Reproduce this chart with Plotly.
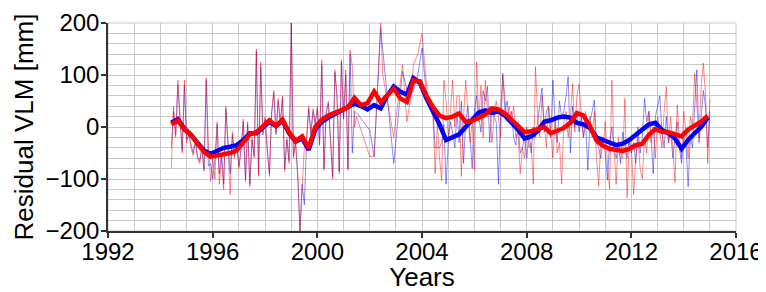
import plotly.graph_objects as go

# ---------------- data ----------------
start_year = 1994.42
smooth_step = 0.25      # quarterly samples of the smoothed series
raw_step = 1 / 12       # monthly samples of the raw series

blue_smooth = [8, 15, -3, -15, -30, -45, -52, -45, -40, -38, -35,
               -25, -12, -12, 0, 10, 2, 12, -12, -28, -22, -44, -5,
               10, 18, 25, 32, 38, 45, 40, 34, 42, 36, 60, 78,
               68, 62, 94, 85, 55, 30, 5, -25, -20, -14, 0, 14,
               28, 32, 27, 30, 22, 8, -5, -22, -18, -8, 10, 13,
               18, 20, 18, 8, 5, -2, -20, -25, -30, -35, -32, -25,
               -15, -6, 5, 8, -6, -12, -22, -42, -25, -12, 0, 18]

red_smooth = [5, 13, -5, -15, -32, -48, -57, -55, -52, -50, -45,
              -28, -14, -10, 3, 13, 2, 14, -10, -27, -18, -40, 0,
              14, 22, 27, 34, 38, 56, 42, 46, 68, 48, 62, 74,
              55, 48, 90, 88, 60, 38, 22, 17, 20, 26, 10, 12,
              18, 24, 36, 34, 26, 14, 2, -10, -8, -3, 0, -12,
              -8, -2, 8, 27, 22, 2, -26, -36, -42, -44, -46, -42,
              -35, -32, -15, -4, -9, -10, -14, -18, -5, 2, 10, 22]

blue_raw = [
    -40, 30, -15, 80, 15, -45, 80, -25, -15, -35, -50, -25,
    -55, -65, -40, -85, 90, -75, -70, -100, -60, 5, -90, -50,
    -110, 35, -35, -90, -15, -55, -30, -75, -40, 10, -100, 5,
    -110, -25, -55, 145, -90, 115, -15, 15, -45, -90, 25, 65,
    -15, 50, 5, 55, -80, -25, -65, 200, -55, -30, -100, -200,
    -110, -150, -30, 35, -15, 30, 5, 35, -35, 120, -80, 25,
    45, -25, -95, 105, 55, -85, 125, 15, 100, -80, 140, -50,
    30, 27, None, None, None, None, None, -6, None, -57, None, None,
    190, None, None, None, None, None, -70, None, None, None, 107, None,
    None, 55, None, 70, None, 100, None, 152, None, 60, None, 40,
    30, -40, -40, -40, -30, 5, -110, -30, 10, -10, -40, 30,
    -30, 50, -70, 10, 40, -20, -80, 30, 60, 20, -10, 70,
    50, 78, -30, 40, 20, 10, -110, 20, 103, 30, 50, 10,
    30, -20, -35, 10, -50, -40, -20, -60, -10, -50, 0, -20,
    10, 50, 75, -10, 30, 40, -20, 90, 10, -30, 50, 20,
    30, 60, 97, -50, 40, 0, 30, -10, 20, -20, 10, -83,
    10, 30, 52, -30, -40, -60, -20, -50, -102, -30, 0, -40,
    -60, -30, -70, -10, -40, -60, -20, -50, -30, -70, 0, -50,
    -20, 55, 10, 30, -20, -90, 20, 40, 60, -10, -40, 20,
    -30, -10, -60, -20, 10, -40, -70, -20, -30, -115, -20, -40,
    30, 110, -30, 20, 70, 40, -40, 30]

red_raw = [
    -80, 40, -20, 90, 20, -50, 90, -30, -10, -40, -55, -30,
    -60, -70, -40, -80, 95, -30, -105, -60, -100, 10, -110, -60,
    -120, 40, -40, -130, -10, -60, -30, -80, -45, 15, -105, 10,
    -115, -20, -60, 150, -95, 125, -10, 20, -40, -95, 30, 70,
    -10, 55, 10, 60, -85, -20, -70, 200, -60, -30, -90, -200,
    -115, -40, -20, 40, -10, 35, 10, 40, -30, 129, -83, 30,
    50, -20, -100, 110, 60, -90, 129, 20, 110, -83, 148, 117,
    0, 20, None, None, None, None, None, -57, None, -57, None, None,
    200, 100, None, None, None, None, -20, None, None, None, 120, None,
    10, None, 60, 120, None, 140, None, 180, 130, None, 40, None,
    20, -90, 10, -60, -103, 90, 50, -20, 30, 90, 0, 60,
    60, -95, 20, 90, 30, -30, 10, -83, 125, 10, 80, -20,
    90, 30, 40, -30, 20, 50, 20, -20, 100, 60, 10, 40,
    10, 40, -20, -10, -90, -40, -60, 0, -40, -30, -110, 116,
    20, -20, 60, 10, -40, 40, -10, -60, 20, -50, -30, -110,
    10, 30, -20, 20, 83, -10, 60, 83, 20, -20, 30, 0,
    20, -20, 30, -60, -113, -20, -40, 10, -70, -119, 90, -40,
    -110, -20, -50, -60, 55, -136, -30, -40, -130, -60, -20, -80,
    -100, -20, -50, 30, -30, 0, -60, 20, -10, -40, 30, 78,
    -30, 20, -40, -107, 42, -20, -60, 30, -10, -60, 20, 0,
    103, 40, -20, 80, 123, 60, -70, 55]

x_tick_years = [1992, 1996, 2000, 2004, 2008, 2012, 2016]
y_tick_values = [-200, -100, 0, 100, 200]

smooth_years = [start_year + i * smooth_step for i in range(len(blue_smooth))]
raw_years = [start_year + i * raw_step for i in range(len(blue_raw))]

# ---------------- figure ----------------
fig = go.Figure()
fig.add_trace(go.Scatter(x=raw_years, y=blue_raw, mode="lines", connectgaps=True,
                         line=dict(color="rgba(0,0,255,0.45)", width=1), showlegend=False))
fig.add_trace(go.Scatter(x=raw_years, y=red_raw, mode="lines", connectgaps=True,
                         line=dict(color="rgba(255,0,0,0.45)", width=1), showlegend=False))
fig.add_trace(go.Scatter(x=smooth_years, y=blue_smooth, mode="lines",
                         line=dict(color="#0000ff", width=4.5), showlegend=False))
fig.add_trace(go.Scatter(x=smooth_years, y=red_smooth, mode="lines",
                         line=dict(color="#ff0000", width=4.5), showlegend=False))

grid_col = "#c8c8c8"
fig.add_shape(type="rect", xref="paper", yref="paper", x0=0, y0=0, x1=1, y1=1,
              line=dict(color=grid_col, width=1), layer="below")

# the page body has an 8 px default margin, so the figure is 8 px smaller
fig.update_layout(
    width=758, height=284,
    margin=dict(l=100, r=30, t=15, b=61),
    paper_bgcolor="white", plot_bgcolor="white",
    font=dict(family="Liberation Sans, Arial, sans-serif", size=24, color="black"),
    xaxis=dict(range=[1992, 2016], tickvals=x_tick_years,
               showgrid=True, gridcolor=grid_col, gridwidth=1,
               minor=dict(dtick=1, tick0=1992, showgrid=True, gridcolor=grid_col, gridwidth=1),
               ticks="outside", ticklen=5, tickcolor="#333", tickwidth=1.5,
               showline=True, linecolor="#333", linewidth=1.5, zeroline=False,
               ticklabelstandoff=-7,
               title=dict(text="Years", standoff=0, font=dict(size=26)), automargin=False),
    yaxis=dict(range=[-200, 200], tickvals=y_tick_values,
               ticktext=["\u2212200", "\u2212100", "0", "100", "200"],
               showgrid=True, gridcolor=grid_col, gridwidth=1,
               minor=dict(dtick=20, tick0=0, showgrid=True, gridcolor=grid_col, gridwidth=1),
               ticks="outside", ticklen=5, tickcolor="#333", tickwidth=1.5,
               showline=True, linecolor="#333", linewidth=1.5, zeroline=False,
               ticklabelstandoff=-3,
               title=dict(text="Residual VLM [mm]", standoff=4, font=dict(size=26)),
               automargin=False),
)

fig.write_html("out.html")
